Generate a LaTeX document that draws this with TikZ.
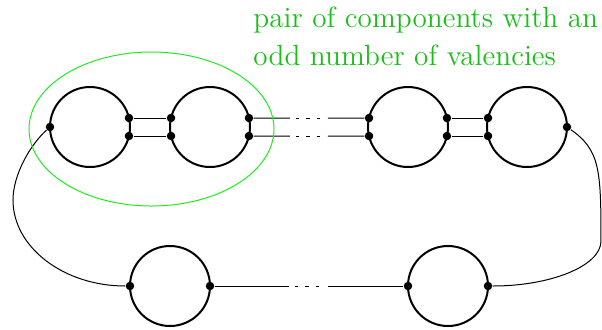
\documentclass[tikz,border=0pt]{standalone}
\usetikzlibrary{shapes.geometric}
\definecolor{txtgreen}{RGB}{25,190,25}
\definecolor{ringgreen}{RGB}{30,235,30}
\begin{document}
\begin{tikzpicture}[x=0.4pt,y=-0.4pt,
  comp/.style={circle,draw,line width=0.8pt,minimum size=32pt,inner sep=0pt,outer sep=0pt},
  vdot/.style={circle,fill=black,inner sep=0pt,minimum size=3.4pt},
  link/.style={line width=0.4pt},
  gapdash/.style={line width=0.4pt,dash pattern=on 0pt off 2.6pt on 1.2pt off 2.8pt on 1.2pt off 2.8pt on 1.2pt off 20pt},
  lbl/.style={anchor=base west,inner sep=0pt,text=txtgreen,font=\fontsize{11.7}{15}\selectfont}]
\useasboundingbox (0,0) rectangle (602,329);
% components
\node[comp] (A) at (90,127) {};
\node[comp] (B) at (210,127) {};
\node[comp] (C) at (408,127) {};
\node[comp] (D) at (527,127) {};
\node[comp] (E) at (170,286) {};
\node[comp] (F) at (448,286) {};
% valency dots
\node[vdot] (a0) at (A.180) {};
\node[vdot] (a1) at (A.13) {};
\node[vdot] (a2) at (A.-13) {};
\node[vdot] (b1) at (B.167) {};
\node[vdot] (b2) at (B.193) {};
\node[vdot] (b3) at (B.13) {};
\node[vdot] (b4) at (B.-13) {};
\node[vdot] (c1) at (C.167) {};
\node[vdot] (c2) at (C.193) {};
\node[vdot] (c3) at (C.13) {};
\node[vdot] (c4) at (C.-13) {};
\node[vdot] (d1) at (D.167) {};
\node[vdot] (d2) at (D.193) {};
\node[vdot] (d0) at (D.0) {};
\node[vdot] (e0) at (E.180) {};
\node[vdot] (e1) at (E.0) {};
\node[vdot] (f1) at (F.180) {};
\node[vdot] (f0) at (F.0) {};
% gap coordinates
\coordinate (g1a) at (290,118); \coordinate (g1b) at (328,118);
\coordinate (g2a) at (290,136); \coordinate (g2b) at (328,136);
\coordinate (g3a) at (289,286); \coordinate (g3b) at (328,286);
% links
\draw[link] (a1) -- (b1);
\draw[link] (a2) -- (b2);
\draw[link] (c3) -- (d1);
\draw[link] (c4) -- (d2);
\draw[link] (b3) -- (g1a); \draw[gapdash] (g1a) -- (g1b); \draw[link] (g1b) -- (c1);
\draw[link] (b4) -- (g2a); \draw[gapdash] (g2a) -- (g2b); \draw[link] (g2b) -- (c2);
\draw[link] (e1) -- (g3a); \draw[gapdash] (g3a) -- (g3b); \draw[link] (g3b) -- (f1);
% outer connectors
\draw[link] (a0) .. controls (30,145) and (13,175) .. (13,200)
  .. controls (13,247.5) and (64,286) .. (e0);
\draw[link] (d0) .. controls (600,150) and (601,170) .. (601,241)
  .. controls (601,265.8) and (551,286) .. (f0);
% highlighted pair
\node[ellipse,draw=ringgreen,line width=0.4pt,minimum width=98pt,minimum height=61.6pt,inner sep=0pt] (pair) at (151.5,129) {};
\node[lbl] (t1) at (253,27) {pair of components with an};
\node[lbl] (t2) at (253,65) {odd number of valencies};
\end{tikzpicture}
\end{document}
